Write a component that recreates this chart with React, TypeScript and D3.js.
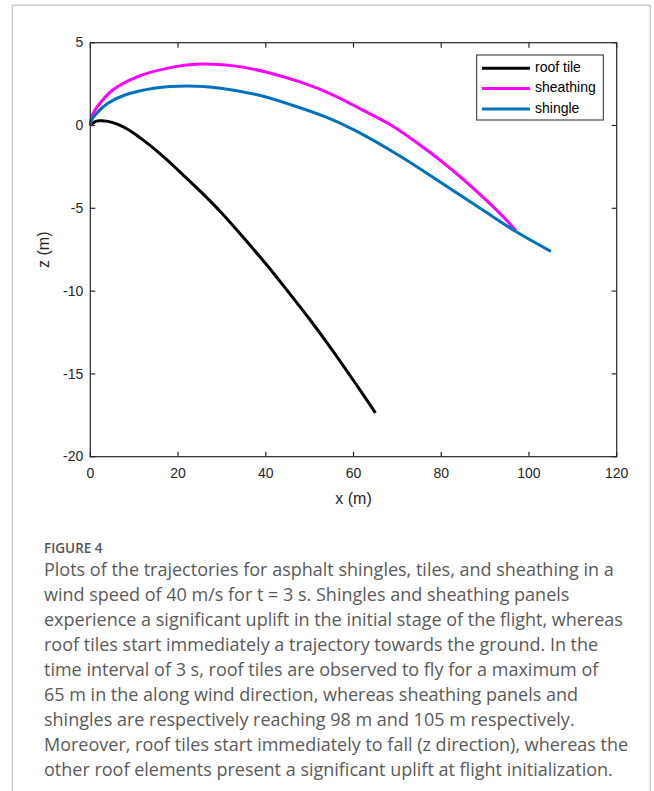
import React from "react";
import * as d3 from "d3";

const xTicks = [0, 20, 40, 60, 80, 100, 120];
const yTicks = [-20, -15, -10, -5, 0, 5];

const tileX = [0, 1, 2, 4, 6, 8, 10, 12, 15, 18, 20, 25, 30, 35, 40, 45, 50, 55, 60, 65];
const tileZ = [0, 0.22, 0.28, 0.25, 0.1, -0.15, -0.48, -0.87, -1.5, -2.2, -2.7, -3.95, -5.3, -6.8, -8.35, -10.0, -11.7, -13.5, -15.4, -17.35];

const sheathX = [0, 0.3, 1, 2.2, 5.1, 10.8, 17.4, 25, 32.6, 40.2, 47.8, 55.4, 62, 68.7, 75, 80, 85, 90, 95, 97];
const sheathZ = [0, 0.5, 0.9, 1.34, 2.14, 2.95, 3.45, 3.71, 3.6, 3.22, 2.63, 1.84, 0.94, 0.0, -1.15, -2.15, -3.25, -4.45, -5.75, -6.35];

const shingleX = [0, 0.3, 1, 2.2, 4, 7.9, 14.5, 22.2, 29.7, 38.3, 45.9, 53.5, 60, 70, 80, 90, 97, 105];
const shingleZ = [0, 0.35, 0.6, 0.94, 1.35, 1.84, 2.25, 2.39, 2.25, 1.84, 1.24, 0.53, -0.25, -1.75, -3.45, -5.2, -6.4, -7.6];

const seriesNames = ["roof tile", "sheathing", "shingle"];
const seriesColors = ["#000000", "#ff00ff", "#0072bd"];

const captionTitle = "FIGURE 4";
const captionLines = [
  "Plots of the trajectories for asphalt shingles, tiles, and sheathing in a",
  "wind speed of 40 m/s for t = 3 s. Shingles and sheathing panels",
  "experience a significant uplift in the initial stage of the flight, whereas",
  "roof tiles start immediately a trajectory towards the ground. In the",
  "time interval of 3 s, roof tiles are observed to fly for a maximum of",
  "65 m in the along wind direction, whereas sheathing panels and",
  "shingles are respectively reaching 98 m and 105 m respectively.",
  "Moreover, roof tiles start immediately to fall (z direction), whereas the",
  "other roof elements present a significant uplift at flight initialization.",
];

export default function App() {
  const W = 654, H = 791;
  const L = 90.3, R = 616.7, T = 42.7, B = 456.7;
  const x = d3.scaleLinear().domain([0, 120]).range([L, R]);
  const y = d3.scaleLinear().domain([-20, 5]).range([B, T]);
  const line = d3.line<[number, number]>().x(d => x(d[0])).y(d => y(d[1])).curve(d3.curveCatmullRom.alpha(0.5));
  const series = [
    tileX.map((v, i) => [v, tileZ[i]] as [number, number]),
    sheathX.map((v, i) => [v, sheathZ[i]] as [number, number]),
    shingleX.map((v, i) => [v, shingleZ[i]] as [number, number]),
  ];
  const axisColor = "#262626";
  const font = "'Liberation Sans', Arial, sans-serif";
  const tk = 5;
  const legX = 476.7, legY = 55, legW = 126.6, legH = 65;
  const captionFont = "'Open Sans', Lato, sans-serif";
  return (
    <div style={{ position: "absolute", left: 0, top: 0 }}>
      <svg width={W} height={H} style={{ display: "block", background: "#fff" }}>
        <rect x={12.3} y={5.3} width={638} height={800} fill="none" stroke="#cccccc" strokeWidth={1.5} />
        {series.map((s, i) => (
          <path key={i} d={line(s) || ""} fill="none" stroke={seriesColors[i]} strokeWidth={3} strokeLinejoin="round" strokeLinecap="butt" />
        ))}
        <rect x={L} y={T} width={R - L} height={B - T} fill="none" stroke={axisColor} strokeWidth={1.2} />
        {xTicks.map(t => (
          <g key={"x" + t}>
            <line x1={x(t)} x2={x(t)} y1={B} y2={B - tk} stroke={axisColor} strokeWidth={1.2} />
            <line x1={x(t)} x2={x(t)} y1={T} y2={T + tk} stroke={axisColor} strokeWidth={1.2} />
            <text x={x(t)} y={B + 18} textAnchor="middle" dominantBaseline="middle" fontFamily={font} fontSize={14} fill={axisColor}>{t}</text>
          </g>
        ))}
        {yTicks.map(t => (
          <g key={"y" + t}>
            <line x1={L} x2={L + tk} y1={y(t)} y2={y(t)} stroke={axisColor} strokeWidth={1.2} />
            <line x1={R} x2={R - tk} y1={y(t)} y2={y(t)} stroke={axisColor} strokeWidth={1.2} />
            <text x={L - 7} y={y(t) + 1} textAnchor="end" dominantBaseline="middle" fontFamily={font} fontSize={14} fill={axisColor}>{t}</text>
          </g>
        ))}
        <text x={(L + R) / 2} y={500} textAnchor="middle" dominantBaseline="middle" fontFamily={font} fontSize={16} fill={axisColor}>x (m)</text>
        <text transform={`translate(45, ${(T + B) / 2}) rotate(-90)`} textAnchor="middle" dominantBaseline="middle" fontFamily={font} fontSize={16} fill={axisColor}>z (m)</text>
        <rect x={legX} y={legY} width={legW} height={legH} fill="#fff" stroke={axisColor} strokeWidth={1} />
        {seriesNames.map((n, i) => (
          <g key={n}>
            <line x1={482} x2={530} y1={68.3 + i * 20.3} y2={68.3 + i * 20.3} stroke={seriesColors[i]} strokeWidth={3} />
            <text x={535} y={68.3 + i * 20.3} dominantBaseline="middle" fontFamily={font} fontSize={14} fill="#000">{n}</text>
          </g>
        ))}
        <text x={44} y={553} fontFamily={captionFont} fontSize={13.5} fontWeight={600} fill="#555">{captionTitle}</text>
        {captionLines.map((l, i) => (
          <text key={i} x={44} y={576 + i * 25} fontFamily={captionFont} fontSize={18} fontWeight={400} fill="#5a5a5a">{l}</text>
        ))}
      </svg>
    </div>
  );
}
